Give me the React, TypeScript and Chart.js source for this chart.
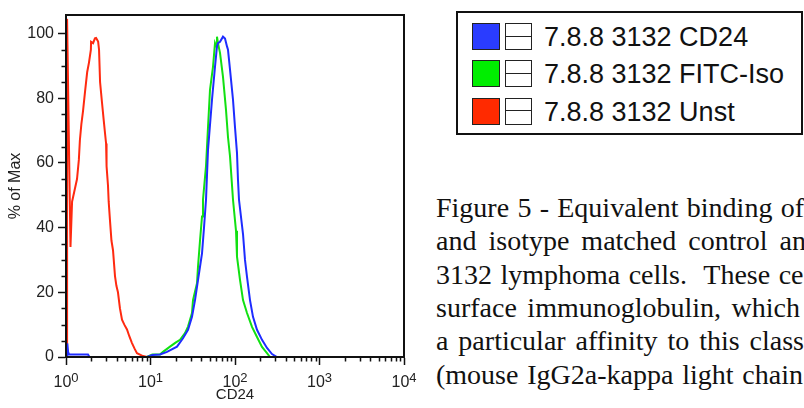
import React, { useEffect, useRef } from 'react';
import { Chart, registerables } from 'chart.js';

Chart.register(...registerables);

// ---- data ----
const cd24X = [1.03, 1.035, 1.06, 1.09, 1.82, 1.9, 9.09, 10.5, 12.95, 15.68, 20.59, 24.24, 27.8, 30.98, 33.63, 36.49, 40.7, 42.97, 45.38, 47.92, 53.43, 57.99, 61.2, 62.9, 66.45, 72.1, 76.15, 80.4, 82.6, 87.3, 94.7, 100, 105.6, 108.5, 111.5, 124.4, 131.3, 138.7, 150.5, 163.3, 182.1, 208.7, 239.2, 274.1, 314, 10000];
const cd24Y = [0, 4.2, 1.5, 0.8, 0.8, 0, 0, 0.6, 0.8, 1.6, 3.2, 5.8, 8.4, 12.4, 17.6, 23.8, 32, 40, 48.6, 64, 79.5, 89.7, 96, 97, 97.4, 99, 98.4, 96, 95, 88.8, 79.5, 71, 63, 54.7, 48.6, 38, 30, 24.8, 17.6, 12.4, 8.4, 5.3, 2.8, 0.9, 0, 0];

const isoX = [1.03, 1.82, 9.09, 10.5, 12.95, 14.06, 17.01, 20, 22.35, 25.6, 27.8, 30.98, 31.84, 35.5, 36.49, 38.54, 40.7, 41.8, 45.38, 47.92, 50.6, 54.9, 57.99, 60, 61.2, 62.9, 66.45, 72.1, 78.25, 82.6, 87.3, 94.7, 102.8, 105.6, 114.6, 124.4, 138.7, 158.9, 182.1, 208.7, 239.2, 259.6, 10000];
const isoY = [0, 0, 0, 0.8, 0.8, 1.6, 3.2, 4.5, 5.3, 7.4, 9.4, 13.6, 17.6, 22.8, 27.9, 36, 43.4, 48.6, 59, 71, 82.6, 89.7, 97, 96, 99, 97, 94, 86.6, 76.4, 68, 62, 48.6, 39, 31, 23.8, 17.6, 13.6, 9.3, 6.2, 3.1, 1.2, 0, 0];

const unstX = [1.03, 1.03, 1.13, 1.18, 1.25, 1.35, 1.42, 1.46, 1.52, 1.59, 1.68, 1.78, 1.87, 1.97, 1.98, 2.09, 2.2, 2.27, 2.4, 2.46, 2.53, 2.67, 2.8, 2.9, 2.98, 3.02, 3.14, 3.2, 3.32, 3.45, 3.6, 3.8, 3.95, 4.12, 4.35, 4.6, 4.9, 5.27, 5.6, 6.04, 6.5, 6.92, 8.15, 9.1, 240];
const unstY = [0, 104.5, 34, 48, 51, 55, 61, 67, 72, 76, 82, 88, 91, 95, 97.4, 97, 98.5, 98.6, 97.5, 95, 85, 78.5, 73, 69, 66, 59, 53, 48, 42, 36, 33, 25, 22, 20, 15, 11.5, 10, 8.5, 6.5, 4.3, 2.5, 1.2, 0.3, 0, 0];

const seriesLabels = ['7.8.8 3132 CD24', '7.8.8 3132 FITC-Iso', '7.8.8 3132 Unst'];
const yMajorTicks = [0, 20, 40, 60, 80, 100];
const yMinorTicks = [5, 10, 15, 25, 30, 35, 45, 50, 55, 65, 70, 75, 85, 90, 95];
const xDecades = [1, 10, 100, 1000, 10000];
const xTickBase = '10';
const xTickExponents = ['0', '1', '2', '3', '4'];
const xMinorMultipliers = [2, 3, 4, 5, 6, 7, 8, 9];
const xTitle = 'CD24';
const yTitle = '% of Max';
const captionLines = [
  'Figure 5 - Equivalent binding of',
  'and isotype matched control an',
  '3132 lymphoma cells.  These ce',
  'surface immunoglobulin, which',
  'a particular affinity to this class',
  '(mouse IgG2a-kappa light chain',
];
// right edge (px within the caption block) that each justified line reaches
const captionLineEnds = [368, 370, 368, 364, 368, 367];

// ---- styles ----
const LINE_COLORS = ['#1e2cff', '#12e012', '#ff2a10'];
const SWATCH_COLORS = ['#2a3cff', '#00ee00', '#ff2a00'];
const SANS = "'Liberation Sans', Arial, Helvetica, sans-serif";
const SERIF = "'Liberation Serif', 'Times New Roman', serif";
const TEXT = '#222';
const CAPTION_SIZE = 28;

const pts = (xs: number[], ys: number[]) => xs.map((x, i) => ({ x, y: ys[i] }));

const framePlugin = {
  id: 'frameAndMinorTicks',
  afterDraw(chart: any) {
    const { ctx, chartArea: a, scales } = chart;
    const x = scales.x;
    const y = scales.y;
    ctx.save();
    ctx.strokeStyle = '#111';
    ctx.lineWidth = 2;
    ctx.strokeRect(a.left, a.top, a.right - a.left, a.bottom - a.top);
    ctx.lineWidth = 1.5;
    ctx.beginPath();
    for (const v of yMinorTicks) {
      const py = Math.round(y.getPixelForValue(v)) + 0.5;
      ctx.moveTo(a.left - 4.5, py);
      ctx.lineTo(a.left, py);
    }
    for (const d of xDecades.slice(0, -1)) {
      for (const k of xMinorMultipliers) {
        const px = Math.round(x.getPixelForValue(d * k)) + 0.5;
        ctx.moveTo(px, a.bottom);
        ctx.lineTo(px, a.bottom + 4.5);
      }
    }
    ctx.stroke();

    // x tick labels as 10 with a raised exponent
    ctx.fillStyle = TEXT;
    ctx.textAlign = 'left';
    ctx.textBaseline = 'alphabetic';
    xDecades.forEach((v, i) => {
      const px = x.getPixelForValue(v);
      ctx.font = `16px ${SANS}`;
      const wb = ctx.measureText(xTickBase).width;
      ctx.font = `13px ${SANS}`;
      const we = ctx.measureText(xTickExponents[i]).width;
      const left = px - (wb + we) / 2;
      ctx.font = `16px ${SANS}`;
      ctx.fillText(xTickBase, left, a.bottom + 30);
      ctx.font = `13px ${SANS}`;
      ctx.fillText(xTickExponents[i], left + wb, a.bottom + 25);
    });
    ctx.restore();
  },
};

function HistogramChart() {
  const ref = useRef<HTMLCanvasElement | null>(null);
  useEffect(() => {
    if (!ref.current) return;
    const font = { family: SANS, size: 16 };
    const xTitleFont = { family: SANS, size: 15 };
    const chart = new Chart(ref.current, {
      type: 'line',
      data: {
        datasets: [
          { label: seriesLabels[0], data: pts(cd24X, cd24Y), borderColor: LINE_COLORS[0], borderWidth: 2, pointRadius: 0, tension: 0, fill: false, order: 0 },
          { label: seriesLabels[1], data: pts(isoX, isoY), borderColor: LINE_COLORS[1], borderWidth: 2, pointRadius: 0, tension: 0, fill: false, order: 1 },
          { label: seriesLabels[2], data: pts(unstX, unstY), borderColor: LINE_COLORS[2], borderWidth: 2, pointRadius: 0, tension: 0, fill: false, order: 2 },
        ],
      },
      options: {
        responsive: false,
        animation: false,
        parsing: false,
        normalized: true,
        layout: { padding: { left: 0, top: 15, right: 16, bottom: 0 } },
        plugins: { legend: { display: false }, tooltip: { enabled: false } },
        scales: {
          x: {
            type: 'logarithmic',
            min: 1,
            max: 10000,
            bounds: 'data',
            afterBuildTicks: (s: any) => { s.ticks = xDecades.map((v) => ({ value: v })); },
            afterFit: (s: any) => { s.height = 51; },
            ticks: { display: false, autoSkip: false, maxRotation: 0 },
            grid: { drawOnChartArea: false, drawTicks: true, tickLength: 8, tickWidth: 1.5, tickColor: '#111' },
            border: { display: true, color: '#111', width: 2 },
            title: { display: true, text: xTitle, color: TEXT, font: xTitleFont, padding: { top: 0, bottom: 4 } },
          },
          y: {
            type: 'linear',
            min: 0,
            max: 105.7,
            bounds: 'data',
            afterBuildTicks: (s: any) => { s.ticks = yMajorTicks.map((v) => ({ value: v })); },
            afterFit: (s: any) => { s.width = 66; },
            ticks: { padding: 4, color: TEXT, font, callback: (v: any) => String(v) },
            grid: { drawOnChartArea: false, drawTicks: true, tickLength: 8, tickWidth: 1.5, tickColor: '#111' },
            border: { display: true, color: '#111', width: 2 },
            title: { display: true, text: yTitle, color: TEXT, font, padding: { top: 6, bottom: 0 } },
          },
        },
      },
      plugins: [framePlugin],
    } as any);
    return () => chart.destroy();
  }, []);
  return <canvas ref={ref} width={420} height={408} style={{ position: 'absolute', left: 0, top: 0, width: 420, height: 408 }} />;
}

function Legend() {
  return (
    <div style={{ position: 'absolute', left: 456, top: 11, width: 347, height: 124, boxSizing: 'border-box', border: '2px solid #111', background: '#fff' }}>
      {seriesLabels.map((label, i) => {
        const top = 10 + i * 37.3;
        return (
          <React.Fragment key={label}>
            <div style={{ position: 'absolute', left: 14, top, width: 28, height: 27, boxSizing: 'border-box', border: '1.5px solid #222', background: SWATCH_COLORS[i] }} />
            <div style={{ position: 'absolute', left: 47, top, width: 27, height: 27, boxSizing: 'border-box', border: '1.5px solid #222', background: '#fff' }}>
              <div style={{ position: 'absolute', left: 0, right: 0, top: 11.5, borderTop: '1.5px solid #222' }} />
            </div>
            <div style={{ position: 'absolute', left: 86, top: top + 1, height: 27, lineHeight: '27px', fontFamily: SANS, fontSize: 27, color: '#111', whiteSpace: 'pre' }}>{label}</div>
          </React.Fragment>
        );
      })}
    </div>
  );
}

function wordSpacingFor(line: string, target: number): number {
  const c = document.createElement('canvas').getContext('2d');
  if (!c) return 0;
  c.font = `${CAPTION_SIZE}px ${SERIF}`;
  const natural = c.measureText(line).width;
  const spaces = (line.match(/ /g) || []).length;
  if (!spaces) return 0;
  return Math.max(0, (target - natural) / spaces);
}

function Caption() {
  return (
    <div style={{ position: 'absolute', left: 436, top: 191, width: 368, height: 217, overflow: 'hidden' }}>
      {captionLines.map((line, i) => (
        <div key={i} style={{ position: 'absolute', left: 0, top: i * 33.3, height: 33.3, lineHeight: '33.3px', fontFamily: SERIF, fontSize: CAPTION_SIZE, color: '#111', whiteSpace: 'pre', wordSpacing: `${wordSpacingFor(line, captionLineEnds[i])}px` }}>{line}</div>
      ))}
    </div>
  );
}

export default function App() {
  return (
    <div style={{ position: 'absolute', left: 0, top: 0, width: 804, height: 408, overflow: 'hidden', background: '#fff' }}>
      <HistogramChart />
      <Legend />
      <Caption />
    </div>
  );
}
